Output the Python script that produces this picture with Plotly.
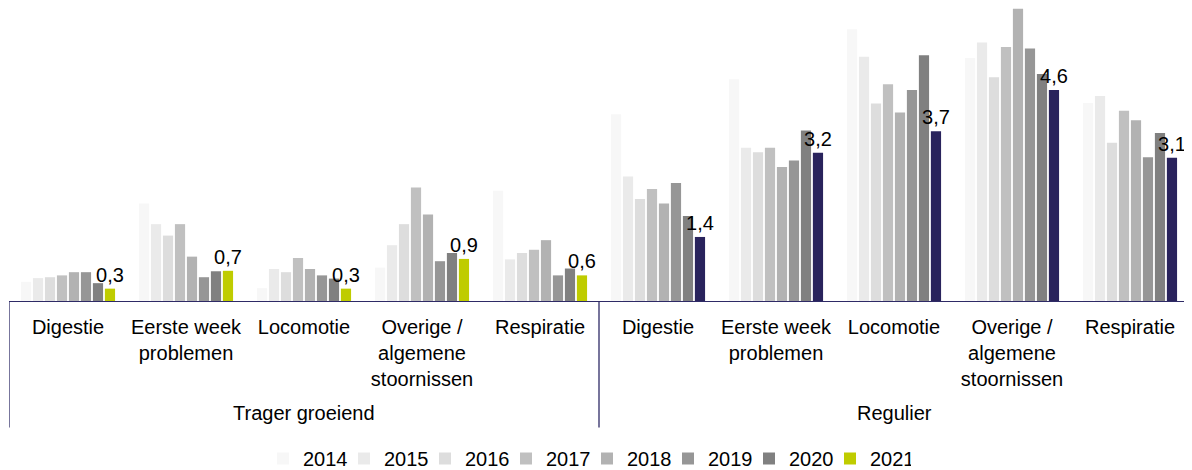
import plotly.graph_objects as go

# categories (two groups of five)
groups = ['Trager groeiend', 'Regulier']
categories = ['Digestie', 'Eerste week<br>problemen', 'Locomotie',
              'Overige /<br>algemene<br>stoornissen', 'Respiratie']
years = ['2014', '2015', '2016', '2017', '2018', '2019', '2020', '2021']

# values per year, order: 5 Trager groeiend categories, then 5 Regulier
v2014 = [0.42, 2.13, 0.28, 0.73, 2.41, 4.08, 4.85, 5.94, 5.31, 4.33]
v2015 = [0.50, 1.68, 0.70, 1.22, 0.91, 2.72, 3.35, 5.34, 5.65, 4.48]
v2016 = [0.52, 1.43, 0.63, 1.68, 1.05, 2.23, 3.25, 4.32, 4.89, 3.46]
v2017 = [0.56, 1.68, 0.94, 2.48, 1.12, 2.45, 3.35, 4.74, 5.55, 4.16]
v2018 = [0.63, 0.97, 0.70, 1.89, 1.33, 2.13, 2.93, 4.12, 6.39, 3.95]
v2019 = [0.63, 0.52, 0.56, 0.87, 0.56, 2.58, 3.07, 4.61, 5.52, 3.14]
v2020 = [0.39, 0.65, 0.49, 1.05, 0.71, 1.86, 3.73, 5.37, 4.96, 3.67]
v2021 = [0.27, 0.66, 0.27, 0.92, 0.56, 1.40, 3.24, 3.71, 4.61, 3.13]
values = [v2014, v2015, v2016, v2017, v2018, v2019, v2020, v2021]

grey_colors = ['#f7f7f7', '#eaeaea', '#dddddd', '#c0c0c0', '#b2b2b2', '#969696', '#808080']
green = '#bfcc00'
navy = '#29235c'
line_color = '#2e2a66'
font = 'Liberation Sans, Arial, sans-serif'

# the page body has an 8px margin, so the figure is laid out 8px smaller
W, H = 1184, 470
base = 294          # baseline, px from figure top
px_unit = 45.9      # px per unit

x = list(range(10))
fig = go.Figure()

for i, year in enumerate(years):
    if year == '2021':
        fig.add_trace(go.Bar(
            x=x, y=values[i], name=year,
            marker=dict(color=[green] * 5 + [navy] * 5, line=dict(width=0)),
            text=[f'{v:.1f}'.replace('.', ',') for v in values[i]],
            textposition='outside', constraintext='none', cliponaxis=False,
            textfont=dict(size=20, color='#000000', family=font),
        ))
    else:
        fig.add_trace(go.Bar(
            x=x, y=values[i], name=year,
            marker=dict(color=grey_colors[i], line=dict(width=0)),
        ))

# frame lines of the category box
for xv in [-0.5, 4.5, 9.5]:
    fig.add_shape(type='line', xref='x', yref='paper', x0=xv, x1=xv, y0=0, y1=-127 / base,
                  line=dict(color=line_color, width=1.3))

for gi, g in enumerate(groups):
    fig.add_annotation(x=2 + gi * 5, xref='x', y=-112 / base, yref='paper', text=g,
                       showarrow=False, yanchor='middle',
                       font=dict(size=20, color='#000000', family=font))

fig.update_layout(
    width=W, height=H,
    margin=dict(l=1, r=3, t=0, b=H - base),
    barmode='group', bargap=0.187, bargroupgap=0.15,
    plot_bgcolor='white', paper_bgcolor='white',
    font=dict(family=font, size=20, color='#000000'),
    showlegend=True,
    legend=dict(orientation='h', x=0.5 - 12 / 1180, xanchor='center', y=-158 / base,
                yanchor='middle', font=dict(size=20), itemclick=False, entrywidth=36),
    xaxis=dict(range=[-0.5, 9.5], tickvals=x, ticktext=categories * 2,
               showline=True, linecolor=line_color, linewidth=1.3,
               showgrid=False, zeroline=False, ticks='', tickangle=0,
               ticklabelstandoff=8,
               tickfont=dict(size=20, color='#000000', family=font)),
    yaxis=dict(range=[0, base / px_unit], visible=False),
)

fig.write_html('out.html')
